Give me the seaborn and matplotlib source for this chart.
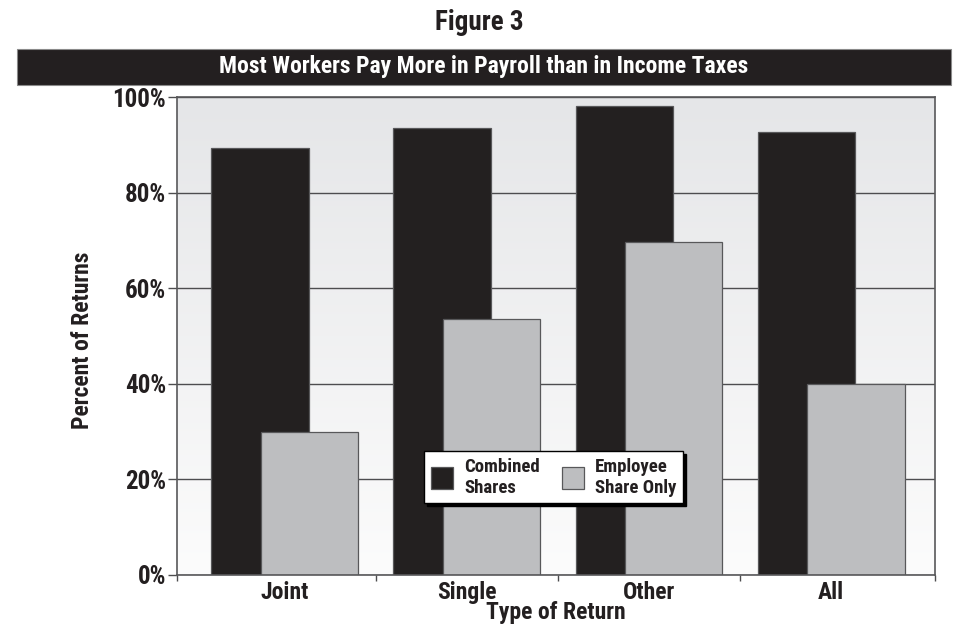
import numpy as np
import pandas as pd
import matplotlib
matplotlib.use("Agg")
import matplotlib.pyplot as plt
import seaborn as sns
from matplotlib.patches import Rectangle
from matplotlib.colors import LinearSegmentedColormap
from matplotlib import font_manager as fm

# ---- data ----
categories = ["Joint", "Single", "Other", "All"]
combined = [89.5, 93.5, 98.2, 92.7]
employee = [29.8, 53.6, 69.6, 40.0]
series_names = ["Combined\nShares", "Employee\nShare Only"]
y_ticks = [0, 20, 40, 60, 80, 100]
y_tick_labels = ["0%", "20%", "40%", "60%", "80%", "100%"]

df = pd.DataFrame({
    "Type": categories * 2,
    "Percent": combined + employee,
    "Series": [series_names[0]] * len(categories) + [series_names[1]] * len(categories),
})

sns.set_style("white")


# ---- pick a condensed bold font if one is installed ----
def _is_bold(f):
    w = f.weight
    if isinstance(w, str):
        return w.lower() in ("bold", "heavy", "black", "semibold", "demibold", "extra bold")
    return w >= 600


def _is_condensed(f):
    s = f.stretch
    key = (f.name + " " + f.fname).lower()
    if "narrow" in key or "condensed" in key:
        return True
    if isinstance(s, str):
        return "condensed" in s.lower()
    return s < 500


pref = ["liberation sans narrow", "roboto condensed", "open sans condensed",
        "noto sans condensed", "noto sans", "open sans", "dejavu sans condensed",
        "dejavu sans"]
cands = [f for f in fm.fontManager.ttflist
         if _is_condensed(f) and _is_bold(f) and "mono" not in f.name.lower()
         and "serif" not in f.name.lower() and "cjk" not in f.name.lower()
         and "italic" not in f.fname.lower() and f.style == "normal"]


def _rank(f):
    n = f.name.lower()
    for i, p in enumerate(pref):
        if n.startswith(p):
            extra = 0 if "semi" not in f.fname.lower() else 0.5
            return i + extra
    return 99


cands.sort(key=_rank)
chosen = cands[0] if cands else None
NARROW = chosen is not None


def fp(size):
    if chosen is not None:
        return fm.FontProperties(fname=chosen.fname, size=size)
    return fm.FontProperties(family=["Roboto", "DejaVu Sans"], weight="bold", size=size)


scale = 1.0 if NARROW else 0.85

DARK = "#231f20"
GRAY = "#bcbec0"
LINE = "#4d4d4f"

fig = plt.figure(figsize=(9.58, 6.33), dpi=100)
ax = fig.add_axes([0.1851, 0.0924, 0.7906, 0.7536])

# gradient background
grad = np.linspace(0, 1, 256).reshape(-1, 1)
cmap = LinearSegmentedColormap.from_list("bg", ["#e5e6e8", "#fcfcfc"])
ax.imshow(grad, aspect="auto", cmap=cmap, extent=(0, 1, 0, 1),
          transform=ax.transAxes, zorder=0, interpolation="bilinear")

sns.barplot(data=df, x="Type", y="Percent", hue="Series",
            palette=[DARK, GRAY], width=0.544, gap=-0.967, dodge=True,
            edgecolor="#58585a", linewidth=0.9, ax=ax, zorder=1)

ax.set_xlim(-0.59, 3.569)
ax.set_ylim(0, 100)

# y axis
ax.set_yticks(y_ticks, y_tick_labels)
ax.yaxis.grid(True, color=LINE, lw=1.0)
ax.set_axisbelow(True)
ax.tick_params(axis="y", direction="out", length=6.5, width=1, color=LINE,
               pad=1.5, left=True)
for lab in ax.get_yticklabels():
    lab.set_fontproperties(fp(18 * scale))
    lab.set_color(DARK)

# x axis
ax.set_xticks(range(len(categories)), categories)
ax.tick_params(axis="x", which="major", length=0, pad=5)
ax.set_xticks([-0.59, 0.5, 1.5, 2.5, 3.569], minor=True)
ax.tick_params(axis="x", which="minor", direction="out", length=4.5, width=1,
               color=LINE, bottom=True)
for lab in ax.get_xticklabels():
    lab.set_fontproperties(fp(17 * scale))
    lab.set_color(DARK)

ax.set_xlabel("Type of Return", fontproperties=fp(17 * scale), va="top", color=DARK)
ax.xaxis.set_label_coords(0.5, -0.056)
ax.set_ylabel("Percent of Returns", fontproperties=fp(17 * scale), color=DARK)
ax.yaxis.set_label_coords(-0.110, 0.4916)

for s in ax.spines.values():
    s.set_visible(True)
    s.set_color("#58585a")
    s.set_linewidth(1.2)

# legend
handles, labels = ax.get_legend_handles_labels()
if ax.get_legend() is not None:
    ax.get_legend().remove()
leg = ax.legend(handles, labels, ncol=2, loc="center", bbox_to_anchor=(0.497, 0.204),
                frameon=True, fancybox=False, edgecolor="black", framealpha=1,
                shadow={"color": "black", "alpha": 1},
                prop=fp(13.5 * scale),
                handlelength=1.16, handleheight=1.5, handletextpad=0.6,
                columnspacing=1.2, borderpad=0.35, borderaxespad=0)
leg.get_frame().set_linewidth(1.0)
leg.set_zorder(5)
for t in leg.get_texts():
    t.set_color(DARK)

# banner and titles
fig.add_artist(Rectangle((0.01775, 0.8657), 0.9746, 0.0569, transform=fig.transFigure,
                         facecolor=DARK, edgecolor="#8a8a8a", lw=0.8))
fig.text(0.505, 0.8942, "Most Workers Pay More in Payroll than in Income Taxes",
         color="white", ha="center", va="center", fontproperties=fp(17 * scale))
fig.text(0.5, 0.9526, "Figure 3", ha="center", va="baseline",
         fontproperties=fp(19.5 * scale), color=DARK)

fig.savefig("out.png", dpi=100)
